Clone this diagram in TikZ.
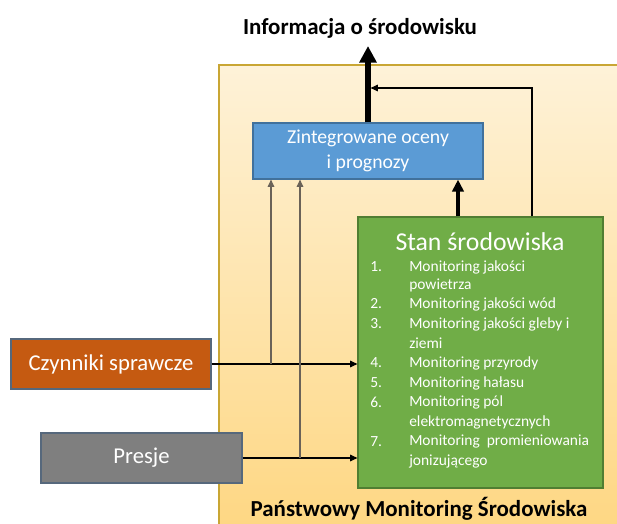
\documentclass[tikz,border=0pt]{standalone}
\usepackage{fontspec}
\setmainfont{Carlito}
\usetikzlibrary{arrows.meta}
\definecolor{pmstop}{HTML}{FEF2D8}
\definecolor{pmsbot}{HTML}{FED680}
\definecolor{pmsline}{HTML}{C9A634}
\definecolor{blueF}{HTML}{5B9BD5}
\definecolor{blueD}{HTML}{41719C}
\definecolor{greenF}{HTML}{70AD47}
\definecolor{greenD}{HTML}{507E32}
\definecolor{orangeF}{HTML}{C55A11}
\definecolor{greyF}{HTML}{7F7F7F}
\definecolor{boxD}{HTML}{56687C}
\definecolor{vcol}{HTML}{6A6258}
\begin{document}
\begin{tikzpicture}[x=0.75pt,y=-0.75pt,
  box/.style={draw, line width=0.9pt, inner sep=0pt, text=white},
  bigarrow/.style={line width=3.8pt, -{Triangle[length=12.5pt,width=12.5pt]}},
  midarrow/.style={line width=3pt, -{Triangle[length=9pt,width=8.5pt]}},
  thinarrow/.style={line width=0.8pt, -{Triangle[length=5.5pt,width=5pt]}},
  itemtext/.style={anchor=west, text=white, font=\fontsize{11.6}{14}\selectfont, inner sep=0pt},
  heading/.style={font=\bfseries\fontsize{17.2}{20}\selectfont, inner sep=0pt}]
\clip (0,0) rectangle (617,524);
\fill[white] (0,0) rectangle (617,524);
\draw[draw=pmsline, line width=1pt, top color=pmstop, bottom color=pmsbot] (219,65) rectangle (640,545);

\node[heading] (title) at (360,28) {Informacja o środowisku};
\node[heading] (pms) at (419,509) {Państwowy Monitoring Środowiska};

\node[box, fill=blueF, draw=blueD, minimum width=172.5pt, minimum height=42pt, align=center,
      font=\fontsize{14.8}{18.75}\selectfont] (ocena) at (368,151) {Zintegrowane oceny\\ i prognozy};
\node[box, fill=greenF, draw=greenD, minimum width=183.75pt, minimum height=203.25pt] (stan) at (480.5,352.5) {};
\node[text=white, font=\fontsize{19.3}{22}\selectfont, inner sep=0pt] (stanT) at (480,242) {Stan środowiska};
\node[box, fill=orangeF, draw=boxD, minimum width=150pt, minimum height=37.5pt,
      font=\fontsize{17}{20}\selectfont] (czyn) at (111,364) {Czynniki sprawcze};
\node[box, fill=greyF, draw=boxD, minimum width=150.75pt, minimum height=37.5pt,
      font=\fontsize{17}{20}\selectfont] (presje) at (141.5,458) {Presje};

\foreach \yy/\nn/\tt in {267/1./Monitoring jakości, 285//powietrza, 304/2./Monitoring jakości wód,
   324/3./Monitoring jakości gleby i, 343//ziemi, 363/4./Monitoring przyrody, 383/5./Monitoring hałasu,
   402/6./Monitoring pól, 422//elektromagnetycznych, 442/7./Monitoring\ \ promieniowania, 462//jonizującego}{
  \node[itemtext] (num\yy) at (370,\yy) {\nn};
  \node[itemtext] (txt\yy) at (409,\yy) {\tt};
}

\coordinate (infotip) at (368,46);
\coordinate (joinR) at (370.6,88);
\draw[bigarrow] (ocena.north) -- (infotip);
\draw[midarrow] (458,0 |- stan.north) -- (458,0 |- ocena.south);
\draw[thinarrow] (532,0 |- stan.north) |- (joinR);
\draw[thinarrow] (czyn.east) -- (czyn.east -| stan.west);
\draw[thinarrow] (presje.east) -- (presje.east -| stan.west);
\draw[thinarrow, draw=vcol] (271,0 |- czyn.east) -- (271,0 |- ocena.south);
\draw[thinarrow, draw=vcol] (300,0 |- presje.east) -- (300,0 |- ocena.south);
\end{tikzpicture}
\end{document}
